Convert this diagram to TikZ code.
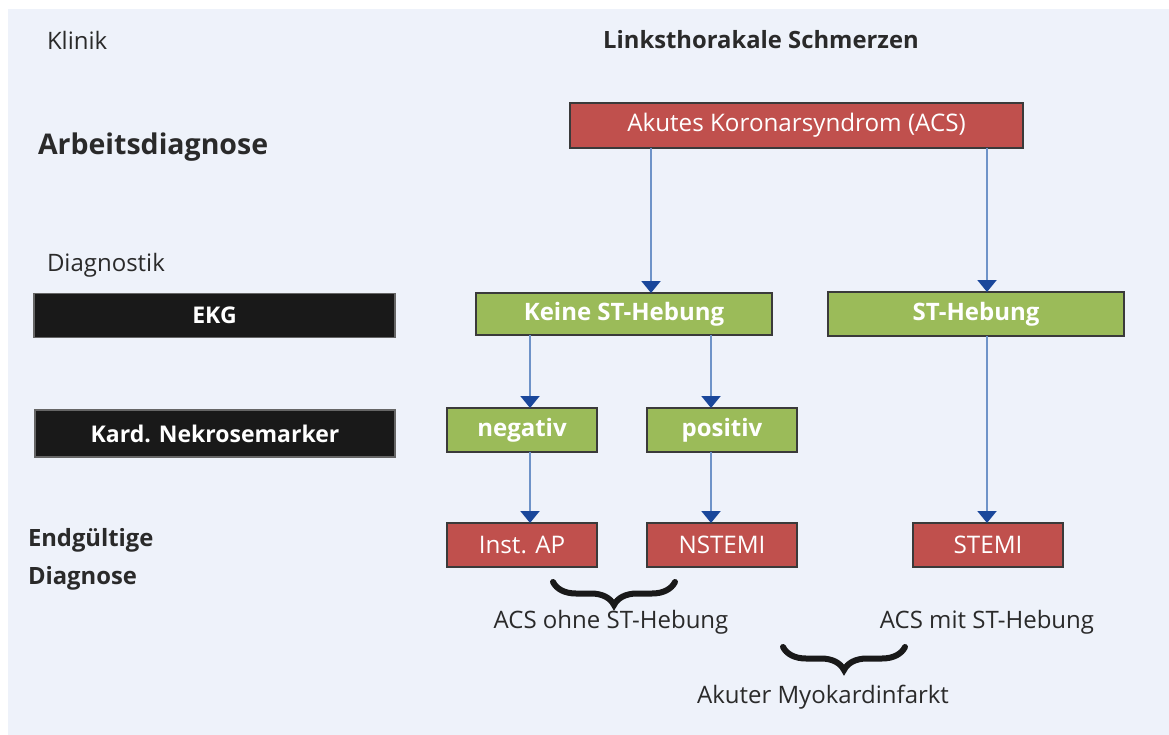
\documentclass[tikz,border=0pt]{standalone}
\usepackage{fontspec}
\setmainfont{Open Sans}
\usetikzlibrary{arrows.meta,decorations.pathreplacing}

\definecolor{bgblue}{HTML}{EEF2FA}
\definecolor{acsred}{HTML}{C0504D}
\definecolor{ekggreen}{HTML}{9BBB59}
\definecolor{boxline}{HTML}{3A3A3A}
\definecolor{lineblue}{HTML}{6E93C8}
\definecolor{tipblue}{HTML}{1A479B}
\definecolor{textdark}{HTML}{2A2A2A}

\begin{document}
\begin{tikzpicture}[%
        x = 1pt,
        y = -1pt,
        every node/.style = {%
            inner sep = 0,
            outer sep = 0,
            text = textdark
        },
        box/.style = {
            draw = boxline,
            line width = 1.5pt,
            text = white,
            minimum height = 44pt,
            font = \fontsize{24.2}{29}\selectfont
        },
        redbox/.style = {
            box,
            fill = acsred
        },
        greenbox/.style = {
            box,
            fill = ekggreen,
            font = \fontsize{24}{29}\selectfont\bfseries
        },
        blackbox/.style = {
            box,
            fill = black!90,
            draw = black!60,
            font = \fontsize{23}{28}\selectfont\bfseries
        },
        label/.style = {
            font = \fontsize{24}{29}\selectfont
        },
        boldlabel/.style = {
            font = \fontsize{23.8}{29}\selectfont\bfseries
        },
        flow/.style = {
            draw = lineblue,
            line width = 2pt,
            -{Triangle[color = tipblue, length = 12pt, width = 19pt]}
        },
        curly/.style = {
            draw = black!90,
            line width = 6pt,
            line cap = round,
            decorate,
            decoration = {brace, amplitude = 23pt}
        }
    ]

        % Page and background.
        \useasboundingbox (0, 0) rectangle (1169, 735);
        \fill[bgblue] (8, 9) rectangle (1169, 735);

        % Row labels on the left.
        \node[label, anchor = west] (klinik) at (47, 40) {Klinik};
        \node[anchor = west, font = \fontsize{28.5}{34}\selectfont\bfseries]
            (arbeit) at (38, 147) {Arbeitsdiagnose};
        \node[label, anchor = west] (diagnostik) at (47, 265) {Diagnostik};
        \node[blackbox, minimum width = 361pt] (ekg) at (214.5, 315.5) {EKG};
        \node[blackbox, minimum width = 360pt, minimum height = 47pt]
            (marker) at (215, 433.5) {Kard. Nekrosemarker};
        \node[boldlabel, anchor = west] (endg) at (28, 540) {Endgültige};
        \node[boldlabel, anchor = west] (diag) at (28, 578) {Diagnose};

        % Symptom and working diagnosis.
        \node[boldlabel] (schmerz) at (761, 40) {Linksthorakale Schmerzen};
        \node[redbox, minimum width = 453pt, minimum height = 45pt]
            (acs) at (796.5, 125.5) {Akutes Koronarsyndrom (ACS)};

        % ECG findings.
        \node[greenbox, minimum width = 296pt, minimum height = 42pt]
            (keine) at (624, 314) {Keine ST-Hebung};
        \node[greenbox, minimum width = 296pt] (hebung) at (976, 314) {ST-Hebung};

        % Necrosis markers.
        \node[greenbox, minimum width = 150pt] (neg) at (522, 430) {negativ};
        \node[greenbox, minimum width = 150pt] (pos) at (722, 430) {positiv};

        % Final diagnoses.
        \node[redbox, minimum width = 150pt] (ap) at (522, 545) {Inst. AP};
        \node[redbox, minimum width = 150pt] (nstemi) at (722, 545) {NSTEMI};
        \node[redbox, minimum width = 150pt] (stemi) at (988, 545) {STEMI};

        % Columns of the arrows.
        \coordinate (colA) at (651, 0);
        \coordinate (colB) at (987, 0);
        \coordinate (colC) at (530, 0);
        \coordinate (colD) at (711, 0);

        % Draw arrows.
        \draw[flow] (acs.south -| colA) -- (keine.north -| colA);
        \draw[flow] (acs.south -| colB) -- (hebung.north -| colB);
        \draw[flow] (keine.south -| colC) -- (neg.north -| colC);
        \draw[flow] (keine.south -| colD) -- (pos.north -| colD);
        \draw[flow] (neg.south -| colC) -- (ap.north -| colC);
        \draw[flow] (pos.south -| colD) -- (nstemi.north -| colD);
        \draw[flow] (hebung.south -| colB) -- (stemi.north -| colB);

        % Braces and their texts.
        \coordinate (b1l) at (553, 582);
        \coordinate (b1r) at (675, 582);
        \coordinate (b2l) at (783, 647);
        \coordinate (b2r) at (905, 647);
        \draw[curly] (b1r) -- (b1l);
        \draw[curly] (b2r) -- (b2l);
        \node[label] (ohne) at (611, 622) {ACS ohne ST-Hebung};
        \node[label] (mit) at (987, 622) {ACS mit ST-Hebung};
        \node[label] (ami) at (823, 697) {Akuter Myokardinfarkt};
    \end{tikzpicture}
\end{document}
